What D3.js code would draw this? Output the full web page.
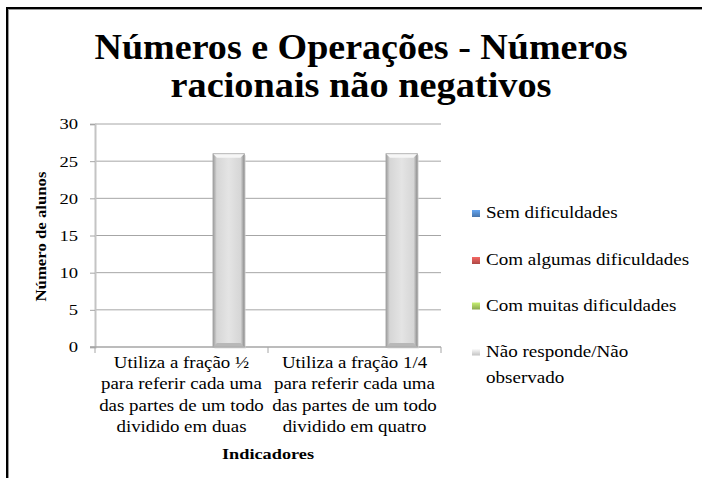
<!DOCTYPE html>
<html><head><meta charset="utf-8">
<script src="https://cdn.jsdelivr.net/npm/d3@7"></script>
<style>body{margin:0;background:#fff}svg{display:block}</style>
</head><body><svg id="c" width="702" height="478"></svg>
<script>
const categories = [
  ["Utiliza a fração ½","para referir cada uma","das partes de um todo","dividido em duas"],
  ["Utiliza a fração 1/4","para referir cada uma","das partes de um todo","dividido em quatro"]
];
const seriesNames = ["Sem dificuldades","Com algumas dificuldades","Com muitas dificuldades","Não responde/Não observado"];
const seriesColors = ["#4f81bd","#c0504d","#9bbb59","#d9d9d9"];
const values = [
  [0,0,0,26],
  [0,0,0,26]
];
const yTicks = [0,5,10,15,20,25,30];
const titleLines = ["Números e Operações - Números","racionais não negativos"];

(function(){
const svg = d3.select("#c");
const font = '"Liberation Serif"';
const defs = svg.append("defs");
function stretch(sel,k){
  sel.each(function(){
    const L = this.getComputedTextLength();
    d3.select(this).attr("textLength",L*k).attr("lengthAdjust","spacingAndGlyphs");
  });
}

// frame border
svg.append("path").attr("d","M7,478 L7,8 L702,8").attr("fill","none").attr("stroke","#999").attr("stroke-width",2).attr("transform","translate(1,1)");
svg.append("path").attr("d","M7,478 L7,8 L702,8").attr("fill","none").attr("stroke","#000").attr("stroke-width",2);

// title
const titleW = [533,381];
svg.append("g").selectAll("text").data(titleLines).join("text")
  .attr("x",361).attr("y",(d,i)=>59+i*38).attr("text-anchor","middle")
  .style("font-family",font).style("font-weight","bold").style("font-size","35px").attr("fill","#000")
  .attr("textLength",(d,i)=>titleW[i]).attr("lengthAdjust","spacingAndGlyphs").text(d=>d);

const pL=95,pR=441,pT=124,pB=347;
const y = d3.scaleLinear().domain([0,30]).range([pB,pT]);
const x0 = d3.scaleBand().domain(d3.range(categories.length)).range([pL,pR]).paddingInner(0).paddingOuter(0);
const bw = x0.bandwidth();
// Excel gap width 150%: bar width = band / 5.5
const barW = bw/5.5;
const barX = (ci,si)=> x0(ci) + 0.75*barW + si*barW;

// gridlines
svg.append("g").selectAll("line").data(yTicks.filter(d=>d>0)).join("line")
  .attr("x1",pL).attr("x2",pR).attr("y1",d=>y(d)).attr("y2",d=>y(d))
  .attr("stroke","#a6a6a6").attr("stroke-width",1);

// y axis
const yAxis = d3.axisLeft(y).tickValues(yTicks).tickSize(5).tickPadding(12);
const ga = svg.append("g").attr("transform",`translate(${pL},0)`).call(yAxis);
ga.attr("font-family",null).attr("font-size",null);
ga.select(".domain").attr("stroke","#c4c4c4").attr("stroke-width",2);
ga.selectAll(".tick line").attr("stroke","#a6a6a6");
ga.selectAll(".tick text").style("font-family",font).style("font-size","15.5px").attr("fill","#000");
stretch(ga.selectAll(".tick text"),1.2);

// x axis line and ticks
svg.append("line").attr("x1",pL-5).attr("x2",pR).attr("y1",pB).attr("y2",pB).attr("stroke","#a6a6a6").attr("stroke-width",1.5);
svg.append("g").selectAll("line").data(d3.range(categories.length+1)).join("line")
  .attr("x1",d=>pL+d*bw).attr("x2",d=>pL+d*bw).attr("y1",pB).attr("y2",pB+6)
  .attr("stroke","#a6a6a6");

// bar gradients
const gH = defs.append("linearGradient").attr("id","gh").attr("x1","0").attr("x2","1").attr("y1","0").attr("y2","0");
gH.append("stop").attr("offset","0").attr("stop-color","#9a9a9a");
gH.append("stop").attr("offset","0.12").attr("stop-color","#d6d6d6");
gH.append("stop").attr("offset","0.5").attr("stop-color","#e4e4e4");
gH.append("stop").attr("offset","0.88").attr("stop-color","#d6d6d6");
gH.append("stop").attr("offset","1").attr("stop-color","#8c8c8c");

const bars = [];
values.forEach((row,ci)=>row.forEach((v,si)=>{ if(v>0) bars.push({ci,si,v}); }));
const bg = svg.append("g");
bars.forEach(b=>{
  const bx = barX(b.ci,b.si), by = y(b.v), bh = pB-by, w = barW;
  const g = bg.append("g");
  g.append("rect").attr("x",bx+1.5).attr("y",by+1.5).attr("width",w).attr("height",bh).attr("fill","#cfcfcf").attr("opacity",0.6);
  g.append("rect").attr("x",bx).attr("y",by).attr("width",w).attr("height",bh).attr("fill","url(#gh)");
  const e=4;
  g.append("path").attr("d",`M${bx},${by} L${bx+w},${by} L${bx+w-e},${by+e} L${bx+e},${by+e} Z`).attr("fill","#f6f6f6");
  g.append("path").attr("d",`M${bx},${pB} L${bx+w},${pB} L${bx+w-e},${pB-e} L${bx+e},${pB-e} Z`).attr("fill","#b8b8b8");
  g.append("rect").attr("x",bx).attr("y",by).attr("width",w).attr("height",bh).attr("fill","none").attr("stroke","#a8a8a8").attr("stroke-width",0.8);
});

// category labels
const cl = svg.append("g");
categories.forEach((lines,ci)=>{
  cl.selectAll(null).data(lines).join("text").attr("text-anchor","middle")
    .style("font-family",font).style("font-size","16px").attr("fill","#000")
    .attr("x",x0(ci)+bw/2).attr("y",(d,i)=>368+i*21.3).text(d=>d);
});
stretch(cl.selectAll("text"),1.18);

// axis titles
svg.append("text").attr("x",pL+bw).attr("y",459).attr("text-anchor","middle").style("font-family",font)
  .style("font-weight","bold").style("font-size","15.5px").attr("textLength",92).attr("lengthAdjust","spacingAndGlyphs").text("Indicadores");
svg.append("text").attr("transform",`translate(46,${(pT+pB)/2+1}) rotate(-90)`).attr("text-anchor","middle")
  .style("font-family",font).style("font-weight","bold").style("font-size","15.5px").attr("textLength",130).attr("lengthAdjust","spacingAndGlyphs").text("Número de alunos");

// legend
const lg = svg.append("g");
const legY = [213.5,260.5,306,352];
seriesNames.forEach((n,i)=>{
  const gid="lg"+i;
  const c = d3.color(seriesColors[i]);
  const gr = defs.append("linearGradient").attr("id",gid).attr("x1","0").attr("x2","0").attr("y1","0").attr("y2","1");
  gr.append("stop").attr("offset","0").attr("stop-color",c.brighter(0.7));
  gr.append("stop").attr("offset","1").attr("stop-color",c.darker(0.3));
  lg.append("rect").attr("x",472).attr("y",legY[i]-3.5).attr("width",8).attr("height",7).attr("fill",`url(#${gid})`);
  const words = i===3 ? ["Não responde/Não","observado"] : [n];
  lg.selectAll(null).data(words).join("text").attr("class","lt").style("font-family",font).style("font-size","17px").attr("fill","#000")
    .attr("x",486).attr("y",(d,k)=>legY[i]+4.5+k*26).text(d=>d);
});
stretch(lg.selectAll("text.lt"),1.12);
})();
</script></body></html>
